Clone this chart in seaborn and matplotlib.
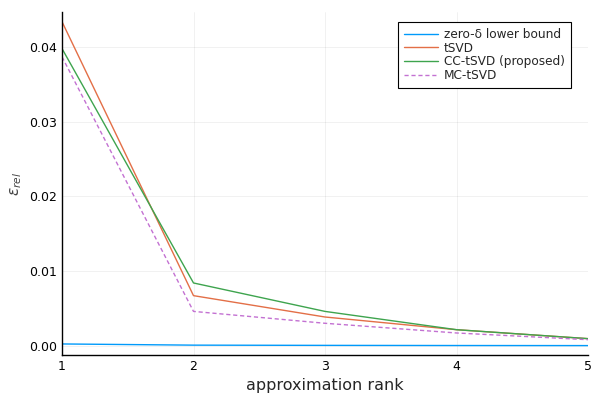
import seaborn as sns
import matplotlib.pyplot as plt
import pandas as pd

# values
ranks = [1, 2, 3, 4, 5]
zero_delta = [0.00023, 0.00007, 0.00004, 0.00002, 0.00001]
tsvd = [0.0434, 0.0067, 0.00384, 0.00214, 0.00094]
cc_tsvd = [0.0398, 0.0084, 0.00459, 0.00214, 0.00094]
mc_tsvd = [0.0387, 0.00459, 0.0030, 0.0017, 0.0008]

series_names = ['zero-δ lower bound', 'tSVD', 'CC-tSVD (proposed)', 'MC-tSVD']
colors = ['#009AFA', '#E36F47', '#3EA44E', '#C371D2']

rows = []
for name, vals in zip(series_names, [zero_delta, tsvd, cc_tsvd, mc_tsvd]):
    for r, v in zip(ranks, vals):
        rows.append({'rank': r, 'err': v, 'method': name})
df = pd.DataFrame(rows)

sns.set_style("white")
plt.rcParams['font.family'] = ['DejaVu Sans']

fig = plt.figure(figsize=(6, 4), dpi=100)
ax = fig.add_axes([62 / 600, 1 - 355 / 400, 526 / 600, 343 / 400])

sns.lineplot(
    data=df, x='rank', y='err', hue='method', style='method',
    hue_order=series_names, style_order=series_names,
    palette=dict(zip(series_names, colors)),
    dashes={series_names[0]: '', series_names[1]: '', series_names[2]: '',
            series_names[3]: (3, 2)},
    linewidth=1, ax=ax,
)

ax.set_xlim(1, 5)
ax.set_ylim(-0.00125, 0.0447)
ax.set_xticks(ranks)
ax.set_yticks([0.0, 0.01, 0.02, 0.03, 0.04])
ax.set_yticklabels(['0.00', '0.01', '0.02', '0.03', '0.04'])
ax.grid(True, color='black', alpha=0.08, linewidth=0.5)
ax.tick_params(direction='in', length=4, width=0.8, labelsize=9, colors='black')
for s in ['top', 'right']:
    ax.spines[s].set_visible(False)
for s in ['left', 'bottom']:
    ax.spines[s].set_color('black')
    ax.spines[s].set_linewidth(1)

ax.set_xlabel('approximation rank', fontsize=11.5)
ax.set_ylabel(r'$\varepsilon_{rel}$', fontsize=11, color='#444444')

leg = ax.legend(loc='upper right', bbox_to_anchor=(0.968, 0.971), fontsize=8.7,
                frameon=True, fancybox=False, framealpha=1, borderpad=0.5,
                borderaxespad=0, labelspacing=0.05, handlelength=2.8,
                handletextpad=0.5)
leg.get_frame().set_edgecolor('black')
leg.get_frame().set_linewidth(0.8)

plt.savefig('out.png', dpi=100)
